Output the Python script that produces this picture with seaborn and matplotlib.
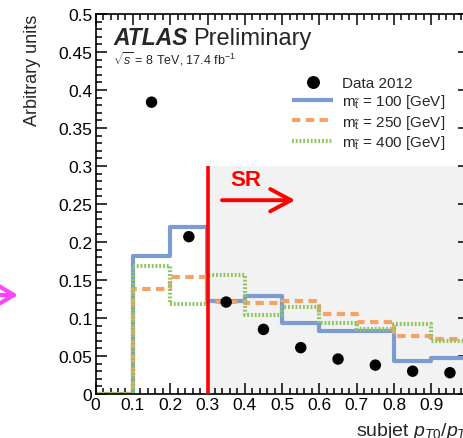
import numpy as np
import matplotlib
matplotlib.use("Agg")
import matplotlib.pyplot as plt
import seaborn as sns
from matplotlib.ticker import MultipleLocator, FuncFormatter
from matplotlib.lines import Line2D
from matplotlib.patches import FancyArrowPatch, Rectangle

# Binning of the subjet momentum-fraction histograms
bin_edges = [0.0, 0.1, 0.2, 0.3, 0.4, 0.5, 0.6, 0.7, 0.8, 0.9, 1.0]

# Normalised signal templates per stop mass
stop100 = [0.0, 0.182, 0.220, 0.122, 0.129, 0.094, 0.083, 0.083, 0.044, 0.047]
stop250 = [0.0, 0.138, 0.154, 0.121, 0.120, 0.122, 0.105, 0.095, 0.076, 0.072]
stop400 = [0.0, 0.169, 0.118, 0.157, 0.104, 0.114, 0.094, 0.086, 0.092, 0.070]

# 2012 data
data_x = [0.15, 0.25, 0.35, 0.45, 0.55, 0.65, 0.75, 0.85, 0.95]
data_y = [0.384, 0.207, 0.121, 0.085, 0.061, 0.046, 0.038, 0.030, 0.028]

labels = ["Data 2012",
          r"m$_{\tilde{\mathrm{t}}}$ = 100 [GeV]",
          r"m$_{\tilde{\mathrm{t}}}$ = 250 [GeV]",
          r"m$_{\tilde{\mathrm{t}}}$ = 400 [GeV]"]

sr_cut = 0.3
sr_top = 0.3

sns.set_style("ticks")
plt.rcParams["font.family"] = ["Liberation Sans", "DejaVu Sans"]
plt.rcParams["mathtext.fontset"] = "custom"
plt.rcParams["mathtext.rm"] = "Liberation Sans"
plt.rcParams["mathtext.it"] = "Liberation Sans:italic"
plt.rcParams["mathtext.bf"] = "Liberation Sans:bold"
plt.rcParams["lines.solid_capstyle"] = "butt"
plt.rcParams["lines.dash_capstyle"] = "butt"

c_blue = "#7b9cd3"
c_orange = "#f5a266"
c_green = "#8fc55e"

fig = plt.figure(figsize=(4.63, 4.39), dpi=100)
ax = fig.add_axes([95.6 / 463, 44 / 439, 373 / 463, 380 / 439])

# signal region shading
ax.add_patch(Rectangle((sr_cut, 0), 1.0 - sr_cut, sr_top, facecolor="#f2f2f2",
                       edgecolor="none", zorder=0))

centers = [(a + b) / 2 for a, b in zip(bin_edges[:-1], bin_edges[1:])]
hist_styles = [
    (stop100, c_blue, "-"),
    (stop250, c_orange, (0, (2.0, 1.3))),
    (stop400, c_green, (0, (0.45, 0.45))),
]
for vals, col, ls in hist_styles:
    sns.histplot(x=centers, weights=vals, bins=bin_edges, element="step",
                 fill=False, color=col, linewidth=3.0, linestyle=ls, ax=ax,
                 zorder=2)

ax.plot([sr_cut, sr_cut], [0, sr_top], color="red", lw=2.6, zorder=3,
        solid_capstyle="butt")

sns.scatterplot(x=data_x, y=data_y, color="black", s=68, edgecolor="none",
                ax=ax, zorder=4)

ax.text(0.403, 0.2816, "SR", color="red", fontsize=16, fontweight="bold",
        ha="center", va="center", zorder=5)
ax.add_patch(FancyArrowPatch((0.3314, 0.255), (0.5426, 0.255),
                             arrowstyle="->,head_length=1.5,head_width=0.8",
                             mutation_scale=10, color="red", lw=2.8,
                             zorder=5))

ax.set_xlim(0, 1.0)
ax.set_ylim(0, 0.5)

ax.xaxis.set_major_locator(MultipleLocator(0.1))
ax.xaxis.set_minor_locator(MultipleLocator(0.02))
ax.yaxis.set_major_locator(MultipleLocator(0.05))
ax.yaxis.set_minor_locator(MultipleLocator(0.01))
fmt = FuncFormatter(lambda v, p: f"{round(v, 3):g}")
xfmt = FuncFormatter(lambda v, p: "" if v > 0.95 else f"{round(v, 3):g}")
ax.xaxis.set_major_formatter(xfmt)
ax.yaxis.set_major_formatter(fmt)
ax.tick_params(which="both", direction="in", top=True, right=True,
               colors="black", width=1.1)
ax.tick_params(which="major", length=8, labelsize=12.5, pad=2.5)
ax.tick_params(which="minor", length=4.3)
for s in ax.spines.values():
    s.set_linewidth(1.2)
    s.set_color("black")

ax.set_xlabel(r"subjet $p_{T0}/p_{T}$", fontsize=14, ha="right", va="baseline")
ax.xaxis.set_label_coords(1.0, -0.108)
ax.set_ylabel("Arbitrary units", fontsize=13, ha="right", va="baseline")
ax.yaxis.set_label_coords(-0.157, 1.0)

ax.text(0.047, 0.921, "ATLAS", transform=ax.transAxes, fontsize=16.5,
        fontweight="bold", fontstyle="italic", va="baseline")
ax.text(0.261, 0.921, "Preliminary", transform=ax.transAxes, fontsize=17,
        va="baseline")
ax.text(0.047, 0.870, r"$\sqrt{s}$ = 8 TeV, 17.4 fb$^{-1}$",
        transform=ax.transAxes, fontsize=9, va="baseline")

handles = [
    Line2D([], [], ls="none", marker="o", color="black", markersize=8.3),
    Line2D([], [], color=c_blue, lw=3.0),
    Line2D([], [], color=c_orange, lw=3.0, ls=(0, (2.0, 1.3))),
    Line2D([], [], color=c_green, lw=3.0, ls=(0, (0.45, 0.45))),
]
ax.legend(handles, labels, loc="upper left",
          bbox_to_anchor=((292 - 95.6) / 373, (395 - 77) / 380),
          frameon=False, fontsize=11, handlelength=2.7, handletextpad=0.6,
          labelspacing=0.15, borderpad=0, borderaxespad=0)

# arrow entering from the neighbouring panel
fig.add_artist(FancyArrowPatch((-40, 143), (20.7, 143), transform=None,
                               arrowstyle="->,head_length=2.0,head_width=1.2",
                               mutation_scale=10, color="#ff44ff", lw=3.0))

fig.savefig("out.png", dpi=100)
